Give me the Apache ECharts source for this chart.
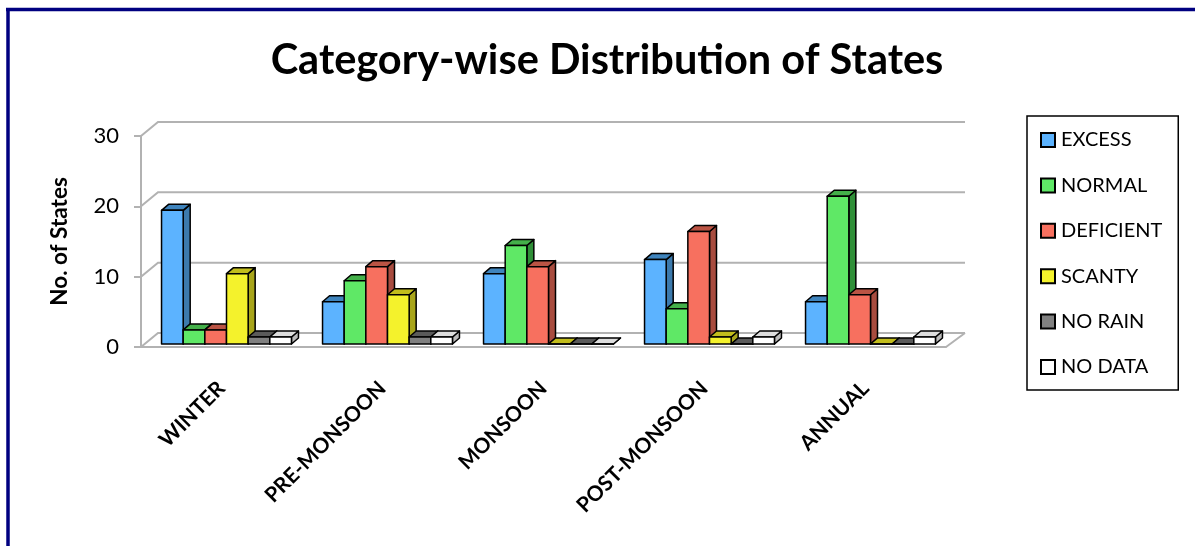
<!DOCTYPE html>
<html>
<head>
<meta charset="utf-8">
<style>
  html, body { margin: 0; padding: 0; background: #fff; overflow: hidden; }
  #chart { width: 1195px; height: 546px; }
</style>
</head>
<body>
<div id="chart"></div>
<script src="https://cdn.jsdelivr.net/npm/echarts@6/dist/echarts.min.js"></script>
<script>
const categories = ["WINTER", "PRE-MONSOON", "MONSOON", "POST-MONSOON", "ANNUAL"];
const seriesNames = ["EXCESS", "NORMAL", "DEFICIENT", "SCANTY", "NO RAIN", "NO DATA"];
const excess = [19, 6, 10, 12, 6];
const normal = [2, 9, 14, 5, 21];
const deficient = [2, 11, 11, 16, 7];
const scanty = [10, 7, 0, 1, 0];
const noRain = [1, 1, 0, 0, 0];
const noData = [1, 1, 0, 1, 1];
const yTicks = [0, 10, 20, 30];

const seriesValues = [excess, normal, deficient, scanty, noRain, noData];
// front, top, side
const colors = [
  ["#5cb3ff", "#3f84bd", "#3c7aad"],
  ["#5fe866", "#44b04a", "#2f8f38"],
  ["#f7705f", "#bb5444", "#a84c3f"],
  ["#f4f22c", "#c2bd1c", "#a8a51a"],
  ["#808080", "#5a5a5a", "#444444"],
  ["#ffffff", "#dddddd", "#bbbbbb"],
];
const FONT = "Lato";
const GRID_GREY = "#b2b2b2";
const WALL_DX = 17, WALL_DY = 14; // wall depth
const BAR_DX = 7, BAR_DY = 6; // bar depth

const renderWall = (params, api) => {
  const v = api.value(0);
  const cs = params.coordSys;
  const y = api.coord([0, v])[1];
  const children = [{
    type: "polyline",
    shape: { points: [[cs.x, y], [cs.x + WALL_DX, y - WALL_DY], [cs.x + cs.width + WALL_DX + 2, y - WALL_DY]] },
    style: { stroke: GRID_GREY, lineWidth: 2, fill: null },
  }];
  if (v === 0) {
    children.push({
      type: "line",
      shape: { x1: cs.x + cs.width, y1: y, x2: cs.x + cs.width + WALL_DX + 2, y2: y - WALL_DY },
      style: { stroke: GRID_GREY, lineWidth: 2 },
    });
  }
  return { type: "group", children };
};

const makeBarRender = (idx) => (params, api) => {
  const c = api.coord([api.value(0), api.value(1)]);
  const base = api.coord([api.value(0), 0]);
  const band = api.size([1, 0])[0];
  const w = band * 0.1345;
  const x0 = c[0] + 5 - 3 * w + idx * w;
  const x1 = x0 + w;
  const yTop = c[1] - 3;
  const yBot = base[1] - 3;
  const stroke = { stroke: "#000", lineWidth: 1.5, lineJoin: "round" };
  const [front, top, side] = colors[idx];
  return {
    type: "group",
    children: [
      { type: "polygon", shape: { points: [[x1, yTop], [x1 + BAR_DX, yTop - BAR_DY], [x1 + BAR_DX, yBot - BAR_DY], [x1, yBot]] }, style: { fill: side, ...stroke } },
      { type: "polygon", shape: { points: [[x0, yTop], [x0 + BAR_DX, yTop - BAR_DY], [x1 + BAR_DX, yTop - BAR_DY], [x1, yTop]] }, style: { fill: top, ...stroke } },
      { type: "rect", shape: { x: x0, y: yTop, width: w, height: yBot - yTop }, style: { fill: front, ...stroke } },
    ],
  };
};

const chart = echarts.init(document.getElementById("chart"));
chart.setOption({
  animation: false,
  backgroundColor: "#fff",
  title: {
    text: "Category-wise Distribution of States",
    left: 602,
    top: 35,
    textAlign: "center",
    textStyle: { fontFamily: FONT, fontSize: 41.5, fontWeight: "bold", color: "#000" },
  },
  graphic: [
    { type: "line", shape: { x1: 6, y1: 9.5, x2: 1195, y2: 9.5 }, style: { stroke: "#000080", lineWidth: 3.5 } },
    { type: "line", shape: { x1: 8, y1: 8, x2: 8, y2: 546 }, style: { stroke: "#000080", lineWidth: 3.5 } },
  ],
  legend: {
    data: seriesNames,
    orient: "vertical",
    left: 1027,
    top: 116,
    padding: [14, 16, 13, 13],
    itemWidth: 14,
    itemHeight: 14,
    itemGap: 25.4,
    icon: "rect",
    borderColor: "#000",
    borderWidth: 1.5,
    textStyle: { fontFamily: FONT, fontSize: 20, color: "#000", padding: [0, 0, 0, 1] },
  },
  grid: { left: 141, right: 249, top: 136, bottom: 199 },
  xAxis: {
    type: "category",
    data: categories,
    axisLine: { lineStyle: { color: GRID_GREY, width: 2 } },
    axisTick: { length: 9, alignWithLabel: false, lineStyle: { color: GRID_GREY, width: 2 } },
    axisLabel: { rotate: 45, interval: 0, margin: 38, fontFamily: FONT, fontSize: 21, fontWeight: "bold", color: "#000" },
  },
  yAxis: {
    type: "value",
    min: 0,
    max: 30,
    interval: 10,
    name: "No. of States",
    nameLocation: "middle",
    nameGap: 70,
    nameTextStyle: { fontFamily: FONT, fontSize: 22.5, fontWeight: "bold", color: "#000" },
    axisLine: { show: true, lineStyle: { color: GRID_GREY, width: 2 } },
    axisTick: { show: true, length: 7, lineStyle: { color: GRID_GREY, width: 2 } },
    axisLabel: { margin: 22, padding: [4, 0, 0, 0], fontFamily: FONT, fontSize: 22, color: "#000" },
    splitLine: { show: false },
  },
  series: [
    {
      type: "custom",
      name: "wall",
      silent: true,
      z: 1,
      clip: false,
      data: yTicks.map((t) => [t]),
      encode: { y: 0 },
      renderItem: renderWall,
    },
    ...seriesNames.map((name, idx) => ({
      type: "custom",
      name,
      z: 2,
      clip: false,
      itemStyle: { color: colors[idx][0], borderColor: "#000", borderWidth: 1.5 },
      data: seriesValues[idx].map((v, i) => [i, v]),
      encode: { x: 0, y: 1 },
      renderItem: makeBarRender(idx),
    })),
  ],
});
</script>
</body>
</html>
